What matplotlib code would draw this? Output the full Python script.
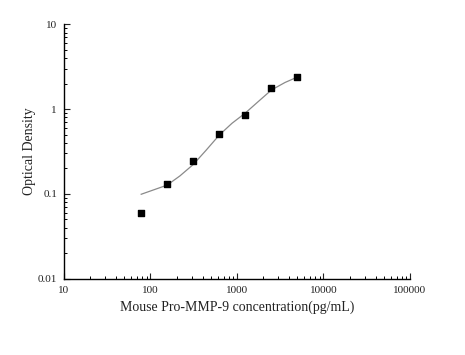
import matplotlib
matplotlib.use("Agg")
import matplotlib.pyplot as plt
from matplotlib.ticker import LogLocator, FixedLocator, FixedFormatter, NullFormatter

plt.rcParams['font.family'] = ['Liberation Serif', 'DejaVu Serif']

# standards (pg/mL) and measured OD
conc = [78.125, 156.25, 312.5, 625, 1250, 2500, 5000]
od = [0.060, 0.130, 0.242, 0.513, 0.851, 1.77, 2.39]

# fitted curve
fit_x = [78.1, 156, 219, 312, 438, 625, 875, 1250, 1750, 2500, 3590, 5000]
fit_y = [0.099, 0.127, 0.163, 0.222, 0.326, 0.495, 0.680, 0.90, 1.22, 1.68, 2.06, 2.39]

xticks = [10, 100, 1000, 10000, 100000]
xlabels = ['10', '100', '1000', '10000', '100000']
yticks = [0.01, 0.1, 1, 10]
ylabels = ['0.01', '0.1', '1', '10']

fig = plt.figure(figsize=(4.65, 3.55), dpi=100)
ax = fig.add_axes([0.1376, 0.215, 0.7441, 0.7165])

ax.plot(fit_x, fit_y, color='#8a8a8a', lw=0.9, zorder=2)
ax.scatter(conc, od, marker='s', s=22, color='black', zorder=3)

ax.set_xscale('log')
ax.set_yscale('log')
ax.set_xlim(10, 100000)
ax.set_ylim(0.01, 10)

ax.xaxis.set_major_locator(FixedLocator(xticks))
ax.xaxis.set_major_formatter(FixedFormatter(xlabels))
ax.yaxis.set_major_locator(FixedLocator(yticks))
ax.yaxis.set_major_formatter(FixedFormatter(ylabels))
ax.xaxis.set_minor_locator(LogLocator(base=10, subs=range(2, 10), numticks=20))
ax.yaxis.set_minor_locator(LogLocator(base=10, subs=range(2, 10), numticks=20))
ax.xaxis.set_minor_formatter(NullFormatter())
ax.yaxis.set_minor_formatter(NullFormatter())

ax.tick_params(which='major', direction='in', length=4, width=0.8, labelsize=8, colors='#222222', pad=5)
ax.tick_params(which='minor', direction='in', length=2.5, width=0.7)

ax.spines['top'].set_visible(False)
ax.spines['right'].set_visible(False)
ax.spines['left'].set_linewidth(1.0)
ax.spines['bottom'].set_linewidth(1.0)

ax.set_xlabel('Mouse Pro-MMP-9 concentration(pg/mL)', fontsize=10, color='#222222', labelpad=4)
ax.set_ylabel('Optical Density', fontsize=10, color='#222222', labelpad=1)

fig.savefig('out.png', dpi=100)
